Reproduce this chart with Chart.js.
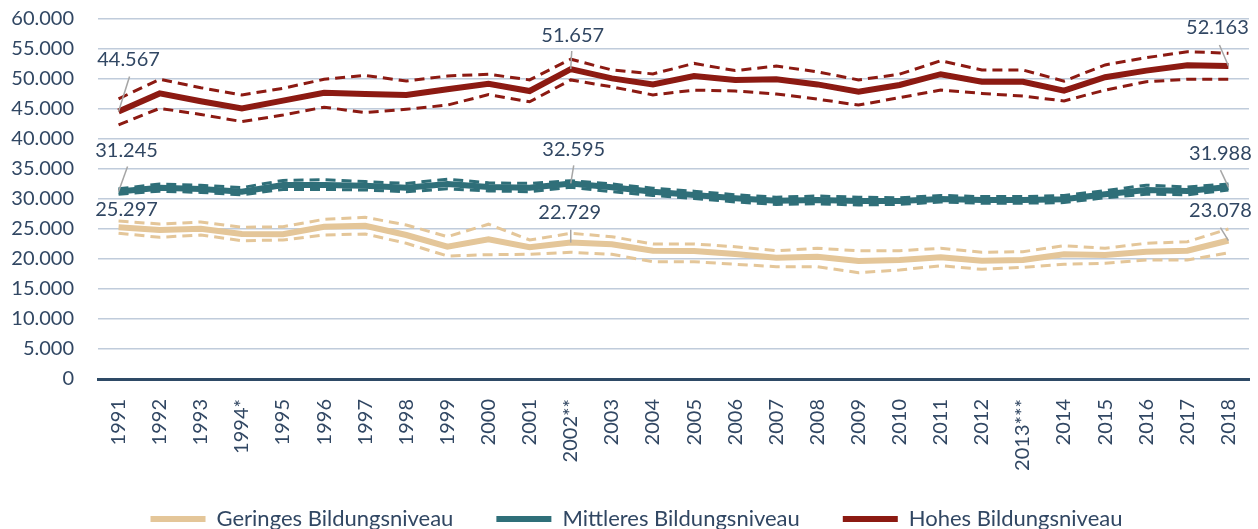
<!DOCTYPE html>
<html>
<head>
<meta charset="utf-8">
<script src="https://cdn.jsdelivr.net/npm/chart.js@4.4.0/dist/chart.umd.min.js"></script>
<style>
  body { margin: 0; background: #fff; }
  #wrap { width: 1258px; height: 529px; }
</style>
</head>
<body>
<div id="wrap"><canvas id="eduChart" width="1258" height="529"></canvas></div>
<script>
// Einkommen nach Bildungsniveau, 1991-2018 (Mittelwert + Konfidenzband)

const years = ['1991', '1992', '1993', '1994*', '1995', '1996', '1997', '1998', '1999', '2000',
    '2001', '2002**', '2003', '2004', '2005', '2006', '2007', '2008', '2009', '2010',
    '2011', '2012', '2013***', '2014', '2015', '2016', '2017', '2018'];

const geringes = [25297, 24830, 25050, 24170, 24120, 25380, 25550, 24000, 22050, 23300,
    21950, 22729, 22450, 21380, 21330, 20830, 20220, 20380, 19670, 19830,
    20280, 19720, 19830, 20780, 20670, 21220, 21380, 23078];
const geringesHigh = [26330, 25830, 26170, 25280, 25380, 26620, 26950, 25670, 23720, 25800,
    23170, 24280, 23720, 22500, 22500, 22050, 21380, 21780, 21380, 21380,
    21780, 21120, 21220, 22220, 21780, 22620, 22880, 25000];
const geringesLow = [24280, 23620, 24000, 23050, 23170, 24000, 24170, 22620, 20500, 20720,
    20780, 21120, 20780, 19550, 19550, 19120, 18720, 18720, 17720, 18170,
    18880, 18280, 18620, 19120, 19280, 19830, 19830, 21050];

const mittleres = [31245, 31880, 31670, 31220, 32330, 32330, 32220, 31880, 32500, 32000,
    31880, 32595, 31950, 31220, 30670, 30120, 29720, 29830, 29670, 29670,
    30000, 29830, 29830, 29950, 30780, 31500, 31330, 31988];
const mittleresHigh = [31700, 32500, 32300, 31900, 33100, 33200, 32900, 32600, 33300, 32700,
    32600, 33050, 32500, 31800, 31300, 30700, 30300, 30500, 30300, 30200,
    30600, 30400, 30400, 30600, 31400, 32300, 32000, 32500];
const mittleresLow = [30800, 31300, 31100, 30700, 31600, 31600, 31500, 31200, 31700, 31350,
    31220, 31950, 31220, 30600, 30100, 29500, 29100, 29200, 29000, 29100,
    29500, 29300, 29300, 29400, 30200, 30800, 30700, 31500];

const hohes = [44567, 47600, 46300, 45100, 46400, 47700, 47500, 47350, 48300, 49200,
    48000, 51657, 50100, 49100, 50500, 49850, 49950, 49100, 47900, 49000,
    50800, 49550, 49550, 48050, 50300, 51400, 52300, 52163];
const hohesHigh = [46700, 49950, 48550, 47350, 48450, 49950, 50600, 49650, 50500, 50800,
    49850, 53300, 51500, 50850, 52600, 51400, 52150, 51200, 49850, 50800,
    53050, 51500, 51500, 49650, 52350, 53550, 54550, 54300];
const hohesLow = [42350, 45100, 44100, 42900, 44000, 45300, 44400, 44950, 45650, 47400,
    46200, 49850, 48700, 47350, 48150, 48000, 47500, 46650, 45650, 46900,
    48150, 47600, 47150, 46350, 48150, 49550, 49950, 49950];

const seriesNames = ['Geringes Bildungsniveau', 'Mittleres Bildungsniveau', 'Hohes Bildungsniveau'];
const seriesColors = ['#E4C699', '#2F6F79', '#8C1A12'];

// which points get a value label (dataset index, point index) and where the label sits
const callouts = [
    { ds: 2, idx: 0, dx: 10, dy: -52, lx: 11, ly: -35 },
    { ds: 2, idx: 11, dx: 2, dy: -34, lx: 1, ly: -18 },
    { ds: 2, idx: 27, dx: -11, dy: -38, lx: -9, ly: -21 },
    { ds: 1, idx: 0, dx: 8, dy: -41, lx: 9, ly: -25 },
    { ds: 1, idx: 11, dx: 3, dy: -34, lx: 3, ly: -18 },
    { ds: 1, idx: 27, dx: -8, dy: -34, lx: -8, ly: -17 },
    { ds: 0, idx: 0, dx: 8, dy: -18, lx: 0, ly: 0 },
    { ds: 0, idx: 11, dx: -1, dy: -30, lx: 0, ly: -13 },
    { ds: 0, idx: 27, dx: -8, dy: -30, lx: -8, ly: -13 }
];

const textColor = '#314763';
const fmt = v => String(Math.round(v)).replace(/\B(?=(\d{3})+(?!\d))/g, '.');

function mainLine(i, data) {
    return {
        label: seriesNames[i],
        data: data,
        borderColor: seriesColors[i],
        backgroundColor: seriesColors[i],
        borderWidth: 6,
        pointRadius: 0,
        tension: 0,
        fill: false
    };
}

function boundLine(i, data) {
    return {
        label: seriesNames[i] + ' (Band)',
        data: data,
        borderColor: seriesColors[i],
        borderWidth: 3,
        borderDash: [10, 6],
        pointRadius: 0,
        tension: 0,
        fill: false
    };
}

const calloutPlugin = {
    id: 'callouts',
    afterLayout(chart) {
        chart.legend.left += 12;
        chart.legend.right += 12;
        // let the long rotated year labels run into the legend area like the original
        chart.scales.x._computeLabelArea = () => undefined;
    },
    afterDatasetsDraw(chart) {
        const { ctx, scales } = chart;
        ctx.save();
        ctx.font = '20px Lato';
        ctx.fillStyle = textColor;
        ctx.textAlign = 'center';
        ctx.textBaseline = 'middle';
        callouts.forEach(c => {
            const value = chart.data.datasets[c.ds].data[c.idx];
            const x = scales.x.getPixelForValue(c.idx);
            const y = scales.y.getPixelForValue(value);
            if (c.ly !== 0) {
                ctx.strokeStyle = '#A6A6A6';
                ctx.lineWidth = 1.5;
                ctx.beginPath();
                ctx.moveTo(x, y);
                ctx.lineTo(x + c.lx, y + c.ly);
                ctx.stroke();
            }
            ctx.fillText(fmt(value), x + c.dx, y + c.dy);
        });
        ctx.restore();
    }
};

const ctx = document.getElementById('eduChart').getContext('2d');

new Chart(ctx, {
    type: 'line',
    data: {
        labels: years,
        datasets: [
            mainLine(0, geringes),
            mainLine(1, mittleres),
            mainLine(2, hohes),
            boundLine(0, geringesHigh),
            boundLine(0, geringesLow),
            boundLine(1, mittleresHigh),
            boundLine(1, mittleresLow),
            boundLine(2, hohesHigh),
            boundLine(2, hohesLow)
        ]
    },
    options: {
        responsive: false,
        animation: false,
        layout: {
            padding: { top: 0, right: 9, bottom: 0, left: 0 }
        },
        scales: {
            x: {
                offset: true,
                grid: { display: false, drawTicks: true, tickLength: 16 },
                border: { display: true, color: '#2E4A66', width: 3 },
                ticks: {
                    color: textColor,
                    font: { family: 'Lato', size: 20 },
                    maxRotation: 90,
                    minRotation: 90,
                    autoSkip: false,
                    padding: 4
                },
                afterFit(scale) { scale.height = 86; }
            },
            y: {
                min: 0,
                max: 60000,
                grid: {
                    color: '#C0CCDB',
                    lineWidth: 1.5,
                    drawTicks: true,
                    tickLength: 17,
                    tickColor: 'rgba(0,0,0,0)'
                },
                border: { display: false },
                ticks: {
                    stepSize: 5000,
                    color: textColor,
                    font: { family: 'Lato', size: 20 },
                    padding: 7,
                    callback: v => fmt(v)
                },
                afterFit(scale) { scale.width = 98; }
            }
        },
        plugins: {
            legend: {
                display: true,
                position: 'bottom',
                maxHeight: 64,
                labels: {
                    color: textColor,
                    font: { family: 'Lato', size: 22 },
                    boxWidth: 55,
                    boxHeight: 6,
                    padding: 43,
                    useBorderRadius: true,
                    borderRadius: 3,
                    generateLabels: chart => seriesNames.map((name, i) => ({
                        text: name,
                        fillStyle: seriesColors[i],
                        strokeStyle: seriesColors[i],
                        lineWidth: 0,
                        hidden: false,
                        datasetIndex: i,
                        fontColor: textColor
                    }))
                }
            },
            tooltip: { enabled: false }
        }
    },
    plugins: [calloutPlugin]
});
</script>
</body>
</html>
